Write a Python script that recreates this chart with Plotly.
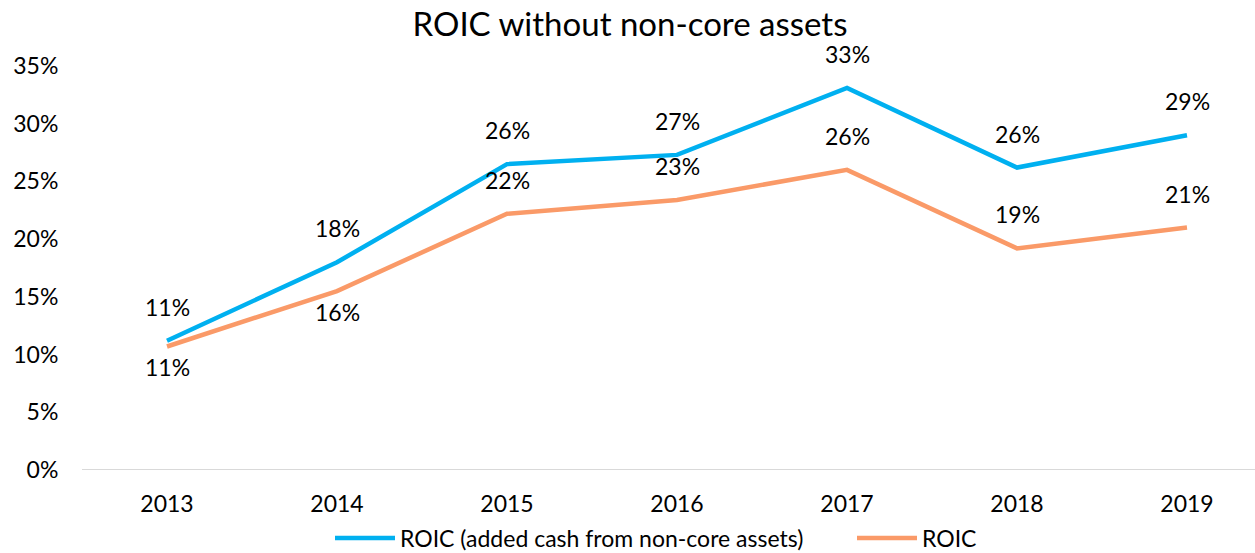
import plotly.graph_objects as go

years = ["2013", "2014", "2015", "2016", "2017", "2018", "2019"]
roic_cash = [11.2, 18.0, 26.5, 27.3, 33.1, 26.2, 29.0]
roic = [10.7, 15.5, 22.2, 23.4, 26.0, 19.2, 21.0]
# label side for the ROIC series (cash series labels always above)
roic_label_side = ["below", "below", "above", "above", "above", "above", "above"]

blue = "#00B0F0"
orange = "#FA9A68"
font = "Lato, Open Sans, sans-serif"
fs = 23

fig = go.Figure()
fig.add_trace(go.Scatter(x=years, y=roic_cash, mode="lines", name="ROIC (added cash from non-core assets)",
                         line=dict(color=blue, width=4.5), legend="legend"))
fig.add_trace(go.Scatter(x=years, y=roic, mode="lines", name="ROIC",
                         line=dict(color=orange, width=4.5), legend="legend2"))

# data labels (x given as category index)
annotations = []
for i, v in enumerate(roic_cash):
    annotations.append(dict(x=i, y=v, xref="x", yref="y", text="%d%%" % round(v), showarrow=False,
                            yshift=34, font=dict(size=fs, color="black", family=font)))
for i, (v, side) in enumerate(zip(roic, roic_label_side)):
    annotations.append(dict(x=i, y=v, xref="x", yref="y", text="%d%%" % round(v), showarrow=False,
                            yshift=34 if side == "above" else -21,
                            font=dict(size=fs, color="black", family=font)))

leg = dict(orientation="h", xref="container", yref="container", xanchor="left", yanchor="middle",
           y=0.027, font=dict(size=fs, color="black", family=font), itemwidth=60,
           bgcolor="rgba(0,0,0,0)")

fig.update_layout(
    width=1255, height=553,
    paper_bgcolor="white", plot_bgcolor="white",
    margin=dict(l=82, r=0, t=66, b=83),
    title=dict(text="ROIC without non-core assets", x=0.502, xanchor="center", y=0.955, yanchor="middle",
               font=dict(size=33, color="black", family=font)),
    font=dict(family=font, size=fs, color="black"),
    showlegend=True,
    legend=dict(leg, x=330 / 1255),
    legend2=dict(leg, x=852 / 1255),
    xaxis=dict(type="category", range=[-0.5, 6.4], showgrid=False, showline=False, zeroline=False,
               automargin=False, ticks="outside", ticklen=13, tickcolor="rgba(0,0,0,0)",
               tickfont=dict(size=fs)),
    yaxis=dict(range=[0, 35], dtick=5, ticksuffix="%", showgrid=False, zeroline=False,
               automargin=False, showline=False, ticks="outside", ticklen=18,
               tickcolor="rgba(0,0,0,0)", tickfont=dict(size=fs)),
    shapes=[dict(type="line", xref="paper", yref="y", x0=0, x1=1, y0=0, y1=0,
                 line=dict(color="#D9D9D9", width=2), layer="below")],
    annotations=annotations,
)

fig.write_html("out.html", config={"displayModeBar": False},
               post_script="document.body.style.margin='0';")
